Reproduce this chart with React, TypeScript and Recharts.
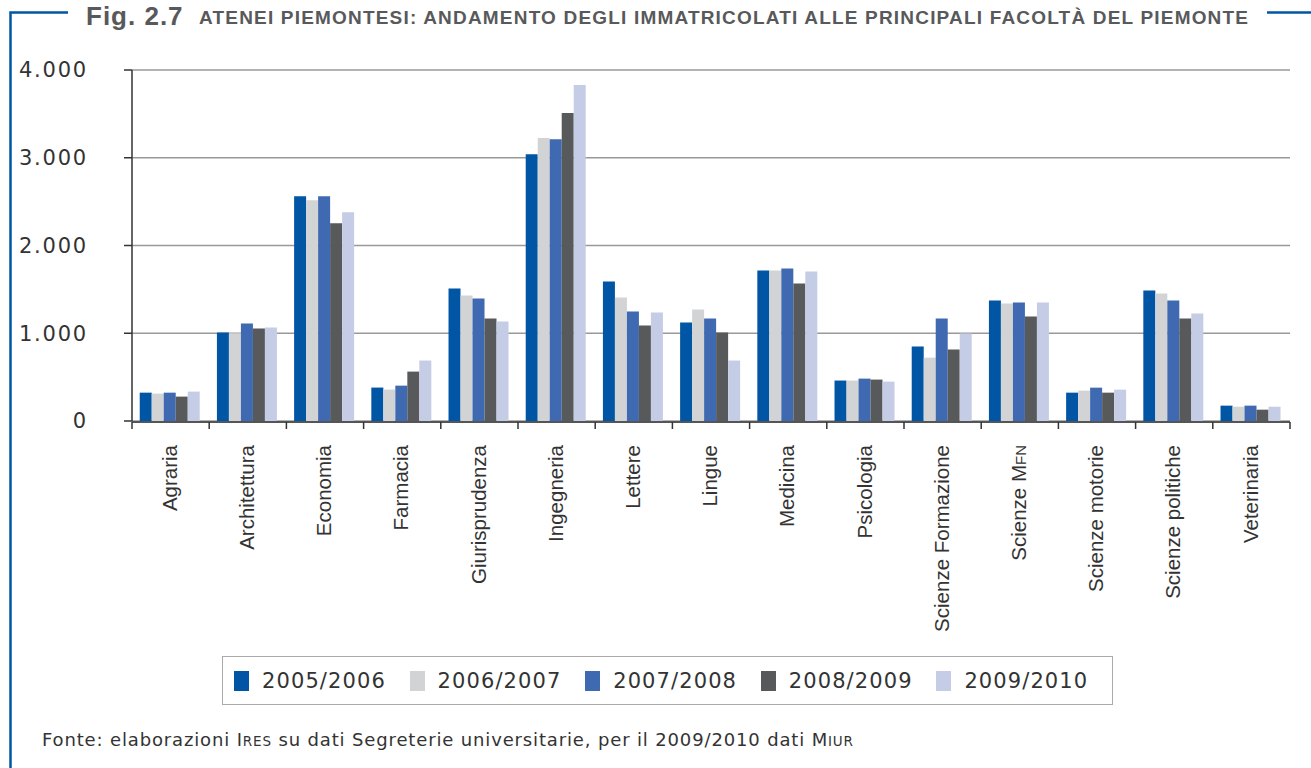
import React from 'react';
import { BarChart, Bar, XAxis, YAxis, CartesianGrid } from 'recharts';

const categories = ['Agraria', 'Architettura', 'Economia', 'Farmacia', 'Giurisprudenza', 'Ingegneria', 'Lettere', 'Lingue', 'Medicina', 'Psicologia', 'Scienze Formazione', 'Scienze MFN', 'Scienze motorie', 'Scienze politiche', 'Veterinaria'];

const s2005 = [323, 1009, 2561, 381, 1511, 3041, 1591, 1123, 1716, 461, 848, 1373, 323, 1487, 175];
const s2006 = [312, 1001, 2516, 358, 1431, 3224, 1408, 1271, 1716, 461, 722, 1338, 346, 1452, 163];
const s2007 = [323, 1111, 2561, 403, 1397, 3212, 1248, 1168, 1739, 483, 1167, 1350, 380, 1373, 175];
const s2008 = [278, 1054, 2253, 563, 1168, 3509, 1088, 1009, 1568, 472, 814, 1190, 323, 1167, 129];
const s2009 = [335, 1066, 2379, 689, 1134, 3829, 1237, 689, 1705, 449, 996, 1350, 357, 1224, 163];

const seriesKeys = ['a2005', 'a2006', 'a2007', 'a2008', 'a2009'];
const seriesLabels = ['2005/2006', '2006/2007', '2007/2008', '2008/2009', '2009/2010'];
const seriesColors = ['#0055A4', '#D2D3D5', '#3F69B1', '#58595B', '#C5CCE6'];
const seriesValues = [s2005, s2006, s2007, s2008, s2009];

const yTicks = [0, 1000, 2000, 3000, 4000];

const data = categories.map((name, i) => {
  const row: any = { name, idx: i + 0.5 };
  seriesKeys.forEach((k, j) => { row[k] = seriesValues[j][i]; });
  return row;
});
const boundaryTicks = categories.map((_, i) => i).concat(categories.length);

const fmt = (v: number) => (v === 0 ? '0' : v.toLocaleString('de-DE'));

const AXIS_Y = 421;

const CatTick = (props: any) => {
  const { x, payload } = props;
  const name: string = payload.value;
  const isMfn = name === 'Scienze MFN';
  return (
    <g transform={`translate(${x},${AXIS_Y + 24})`}>
      <text transform="rotate(-90)" x={0} y={0} dy="0.3em" textAnchor="end" fill="#333" fontSize={20.5} fontFamily="'Liberation Sans', Arial, sans-serif">
        {isMfn ? (<>Scienze M<tspan fontSize={15}>FN</tspan></>) : name}
      </text>
    </g>
  );
};

const LegendBox = () => (
  <div style={{ position: 'absolute', left: 222, top: 656, boxSizing: 'border-box', width: 891, height: 49, border: '1.5px solid #aaa', display: 'flex', alignItems: 'center', paddingLeft: 11 }}>
    {seriesLabels.map((l, i) => (
      <div key={l} style={{ width: 178, display: 'flex', alignItems: 'center' }}>
        <div style={{ width: 15, height: 20, background: seriesColors[i], marginRight: 13 }} />
        <span style={{ fontFamily: "'DejaVu Sans', sans-serif", fontSize: 21, color: '#333', letterSpacing: 1.1 }}>{l}</span>
      </div>
    ))}
  </div>
);

export default function App() {
  return (
    <div style={{ position: 'absolute', left: 0, top: 0, width: 1311, height: 768, background: '#fff', overflow: 'hidden' }}>
      <BarChart width={1311} height={768} data={data} margin={{ top: 70, right: 21, left: 0, bottom: 345 }} barCategoryGap="10%" barGap={0}>
        <CartesianGrid vertical={false} stroke="#999" strokeWidth={1.5} yAxisId="y" xAxisId="cat" />
        <XAxis xAxisId="cat" dataKey="name" interval={0} height={1} axisLine={false} tickLine={false} tickSize={0} tickMargin={0} tick={<CatTick />} />
        <XAxis xAxisId="grid" type="number" dataKey="idx" domain={[0, categories.length]} ticks={boundaryTicks} allowDataOverflow height={1} tickFormatter={() => ''} tickSize={7} axisLine={{ stroke: '#555', strokeWidth: 2 }} tickLine={{ stroke: '#333', strokeWidth: 1.5 }} />
        <YAxis yAxisId="y" width={132} domain={[0, 4000]} ticks={yTicks} tickFormatter={fmt} tickSize={8} tickMargin={36} axisLine={{ stroke: '#333', strokeWidth: 1.5 }} tickLine={{ stroke: '#333', strokeWidth: 1.5 }} tick={{ fill: '#333', fontSize: 21, fontFamily: "'DejaVu Sans', sans-serif", letterSpacing: 1.8 }} />
        {seriesKeys.map((k, i) => (
          <Bar key={k} dataKey={k} name={seriesLabels[i]} fill={seriesColors[i]} xAxisId="cat" yAxisId="y" isAnimationActive={false} />
        ))}
      </BarChart>
      <LegendBox />
      <svg width={1311} height={768} style={{ position: 'absolute', left: 0, top: 0, pointerEvents: 'none' }}>
        <path d="M 68 12.5 H 10.5 V 768" fill="none" stroke="#0055A4" strokeWidth={2.5} />
        <path d="M 1267 12.5 H 1311" fill="none" stroke="#0055A4" strokeWidth={2.5} />
        <text x={86} y={25} fill="#58595B" fontSize={26} fontWeight="bold" fontFamily="'Liberation Sans', Arial, sans-serif" letterSpacing={1}>Fig. 2.7</text>
        <text x={199} y={24} fill="#58595B" fontSize={19} fontWeight="bold" fontFamily="'Liberation Sans Narrow', 'Liberation Sans', Arial, sans-serif" textLength={1049} lengthAdjust="spacing">ATENEI PIEMONTESI: ANDAMENTO DEGLI IMMATRICOLATI ALLE PRINCIPALI FACOLTÀ DEL PIEMONTE</text>
        <text x={42} y={746} fill="#333" fontSize={18} fontFamily="'DejaVu Sans', sans-serif" textLength={811} lengthAdjust="spacing">
          Fonte: elaborazioni I<tspan fontSize={13.5}>RES</tspan> su dati Segreterie universitarie, per il 2009/2010 dati M<tspan fontSize={13.5}>IUR</tspan>
        </text>
      </svg>
    </div>
  );
}
